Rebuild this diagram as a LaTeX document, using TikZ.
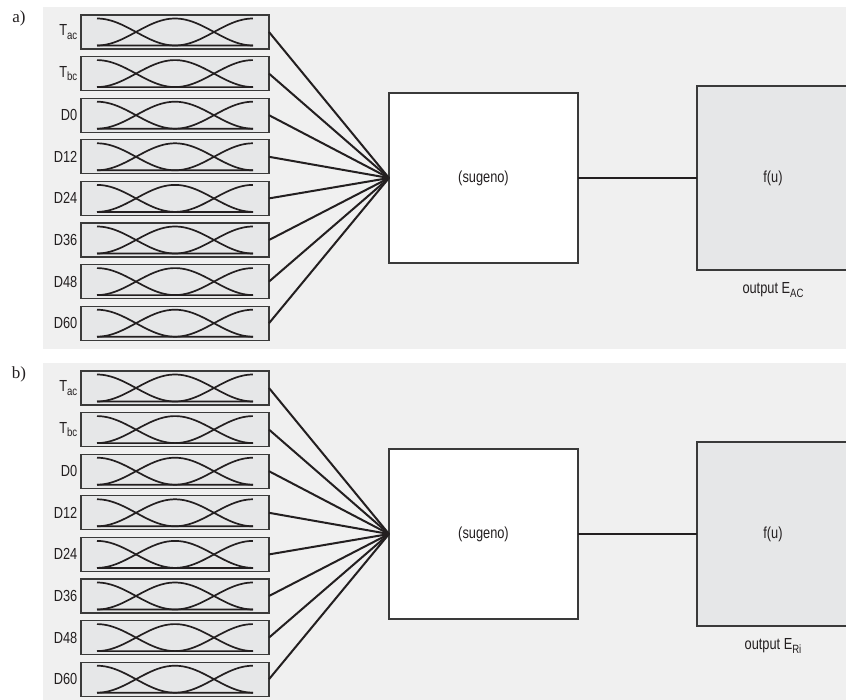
\documentclass[tikz,border=0pt]{standalone}
\usepackage{fontspec}
\setmainfont{Liberation Serif}
\setsansfont{Liberation Sans}[FakeStretch=0.8]
\definecolor{panelgray}{HTML}{F0F0F0}
\definecolor{boxgray}{HTML}{E6E7E8}
\definecolor{boxedge}{HTML}{3A3A3A}
\definecolor{ink}{HTML}{231F20}
\newcommand{\mysub}[1]{\raisebox{-0.45ex}{\fontsize{12}{12}\selectfont #1}}
\begin{document}
\begin{tikzpicture}[x=1pt,y=-1pt,
  panelbg/.style={fill=panelgray,draw=none},
  mfbox/.style={draw=boxedge,fill=boxgray,line width=1.1pt,minimum width=188pt,minimum height=34pt,inner sep=0pt,outer sep=0pt},
  lbl/.style={font=\sffamily\fontsize{16}{16}\selectfont,anchor=east,inner sep=0pt,text=ink},
  txt/.style={font=\sffamily\fontsize{16}{16}\selectfont,inner sep=0pt,text=ink},
  conn/.style={draw=ink,line width=2pt},
  mfcurve/.style={draw=ink,line width=1.7pt},
  sugbox/.style={draw=boxedge,fill=white,line width=1.3pt,minimum width=189pt,minimum height=170pt,inner sep=0pt,outer sep=0pt},
  fubox/.style={draw=boxedge,fill=boxgray,line width=1.3pt,minimum width=152pt,minimum height=184pt,inner sep=0pt,outer sep=0pt},
  plabel/.style={font=\rmfamily\fontsize{17}{17}\selectfont,inner sep=0pt,text=ink}]
\useasboundingbox (0,0) rectangle (846,699);
\foreach \off/\pn/\sub in {0/a/AC,356/b/Ri}{
  \begin{scope}[shift={(0,\off)}]
    \fill[panelbg] (43,7) rectangle (846,349);
    \node[plabel] (\pn-tag) at (19,18) {\pn)};
    \node[sugbox] (\pn-sug) at (483.5,178) {};
    \node[txt] (\pn-sugtxt) at (483.5,178) {(sugeno)};
    \node[fubox] (\pn-fu) at (773,178) {};
    \node[txt] (\pn-futxt) at (773,178) {f(u)};
    \node[txt] (\pn-out) at (773,290) {output E\mysub{\sub}};
    \draw[conn] (\pn-sug.east) -- (\pn-fu.west);
    \foreach \lab [count=\i from 0] in {T\mysub{ac},T\mysub{bc},D0,D12,D24,D36,D48,D60}{
      \pgfmathsetmacro{\cy}{32+41.6*\i}
      \pgfmathsetmacro{\yb}{\cy+13.5}
      \node[mfbox] (\pn-mf\i) at (175,\cy) {};
      \node[lbl] (\pn-lab\i) at (77.5,\cy) {\lab};
      \draw[mfcurve] plot[domain=0:1,samples=30,smooth] ({97+78*\x},{\yb-27*(1+cos(180*\x))/2}) -- (253,\yb);
      \draw[mfcurve] plot[domain=-1:1,samples=50,smooth] ({175+78*\x},{\yb-27*(1+cos(180*\x))/2});
      \draw[mfcurve] (97,\yb) -- plot[domain=0:1,samples=30,smooth] ({175+78*\x},{\yb-27*(1-cos(180*\x))/2});
      \draw[conn] (\pn-mf\i.east) -- (\pn-sug.west);
    }
  \end{scope}
}
\end{tikzpicture}
\end{document}
